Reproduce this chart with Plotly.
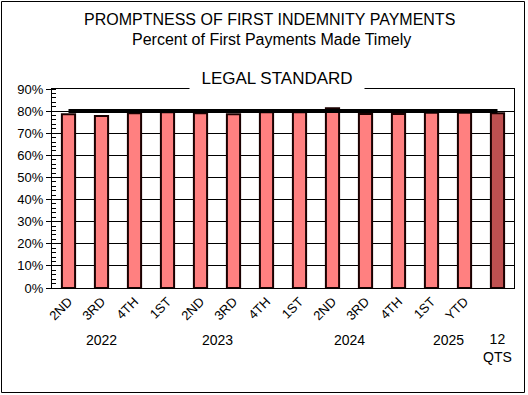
import plotly.graph_objects as go

quarters = ["2ND", "3RD", "4TH", "1ST", "2ND", "3RD", "4TH", "1ST", "2ND", "3RD", "4TH", "1ST", "YTD", ""]
timely_pct = [0.786, 0.778, 0.790, 0.795, 0.790, 0.786, 0.795, 0.795, 0.813, 0.787, 0.787, 0.793, 0.793, 0.790]
legal_standard = [0.80] * 14
year_labels = ["2022", "2023", "2024", "2025", "12<br>QTS"]
year_positions = [1, 4.5, 8.5, 11.5, 13]
y_ticks = [0.0, 0.1, 0.2, 0.3, 0.4, 0.5, 0.6, 0.7, 0.8, 0.9]

idx = list(range(len(quarters)))
colors = ["#FF8080"] * 13 + ["#BF5050"]
FONT = "Liberation Sans, Arial, sans-serif"

fig = go.Figure()
fig.add_trace(go.Bar(
    x=idx, y=timely_pct, width=0.4,
    marker=dict(color=colors, line=dict(color="#1a0000", width=2)),
    showlegend=False,
))
fig.add_trace(go.Scatter(
    x=idx, y=legal_standard, mode="lines",
    line=dict(color="black", width=4), showlegend=False,
))

W, H = 528, 395
L, R, T, B = 52, 14, 89, 107
pw, ph = W - L - R, H - T - B

def px_x(x):
    return (x - L) / pw

def px_y(y):
    return (H - B - y) / ph

annotations = [
    dict(text="PROMPTNESS OF FIRST INDEMNITY PAYMENTS", x=px_x(269), y=px_y(20),
         xref="paper", yref="paper", showarrow=False, xanchor="center", yanchor="middle",
         font=dict(size=16, family=FONT, color="black")),
    dict(text="Percent of First Payments Made Timely", x=px_x(271), y=px_y(40),
         xref="paper", yref="paper", showarrow=False, xanchor="center", yanchor="middle",
         font=dict(size=16, family=FONT, color="black")),
    dict(text="&nbsp;&nbsp;LEGAL STANDARD&nbsp;&nbsp;", x=px_x(277), y=px_y(78),
         xref="paper", yref="paper", showarrow=False, xanchor="center", yanchor="middle",
         bgcolor="white", borderpad=2,
         font=dict(size=17, family=FONT, color="black")),
]
for lab, pos in zip(year_labels, year_positions):
    annotations.append(dict(text=lab, x=pos, y=px_y(340 if "<br>" not in lab else 348),
                            xref="x", yref="paper", showarrow=False,
                            xanchor="center", yanchor="middle",
                            font=dict(size=14, family=FONT, color="black")))

fig.update_layout(
    width=W, height=H,
    margin=dict(l=L, r=R, t=T, b=B, autoexpand=False),
    paper_bgcolor="white", plot_bgcolor="white",
    font=dict(family=FONT, color="black", size=12),
    bargap=0.6,
    xaxis=dict(
        range=[-0.5, 13.5], tickmode="array", tickvals=idx, ticktext=quarters,
        tickangle=-45, showline=True, linecolor="black", linewidth=1, mirror=True,
        showgrid=False, ticks="", tickfont=dict(size=13, family=FONT), zeroline=False,
        automargin=False,
    ),
    yaxis=dict(
        range=[0, 0.9], tickmode="array", tickvals=y_ticks, tickformat=".0%",
        showline=True, linecolor="black", linewidth=1, mirror=True,
        showgrid=True, gridcolor="black", gridwidth=1,
        ticks="outside", ticklen=5, tickcolor="black",
        minor=dict(dtick=0.02, ticks="inside", ticklen=4, tickcolor="black", showgrid=False),
        tickfont=dict(size=13, family=FONT), zeroline=False, automargin=False,
    ),
    annotations=annotations,
    shapes=[dict(type="rect", xref="paper", yref="paper",
                 x0=px_x(1.5), x1=px_x(524.5), y0=px_y(1.5), y1=px_y(392.5),
                 line=dict(color="black", width=1), layer="below")],
)

fig.write_html("out.html", config={"displayModeBar": False},
               post_script="document.body.style.margin='0';document.body.style.overflow='hidden';")
